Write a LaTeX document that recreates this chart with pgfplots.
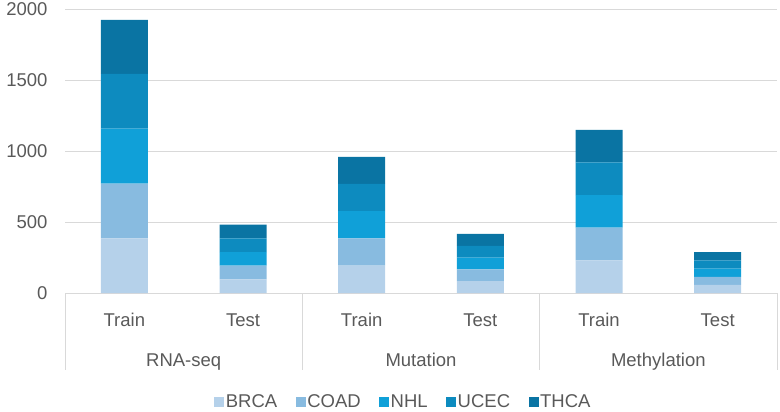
\documentclass[border=0pt]{standalone}
\usepackage{pgfplots}
\pgfplotsset{compat=1.18}
\usepackage{fontspec}
\setmainfont{Liberation Sans}

\definecolor{cBRCA}{RGB}{181,209,234}
\definecolor{cCOAD}{RGB}{136,187,224}
\definecolor{cNHL}{RGB}{16,160,216}
\definecolor{cUCEC}{RGB}{13,139,191}
\definecolor{cTHCA}{RGB}{10,116,163}
\definecolor{txtgray}{RGB}{89,89,89}
\definecolor{gridgray}{RGB}{217,217,217}

\newcommand{\chartfont}{\fontsize{18.5bp}{22bp}\selectfont}

\begin{document}
\begin{tikzpicture}
\path[use as bounding box] (0,0) rectangle (780bp,412bp);
\begin{axis}[
    at={(65bp,119bp)}, anchor=south west,
    scale only axis,
    width=712bp, height=284bp,
    ybar stacked,
    bar width=47bp,
    xmin=-0.5, xmax=5.5,
    ymin=0, ymax=2000,
    ytick={0,500,1000,1500,2000},
    xtick={0,1,2,3,4,5},
    xticklabels={Train,Test,Train,Test,Train,Test},
    /pgf/number format/assume math mode=true,
    /pgf/number format/1000 sep={},
    axis x line*=bottom,
    axis y line*=left,
    y axis line style={draw=none},
    x axis line style={draw=gridgray, line width=0.75bp},
    ymajorgrids,
    grid style={draw=gridgray, line width=0.75bp},
    ytick style={draw=none},
    xtick style={draw=none},
    ticklabel style={font=\chartfont, text=txtgray},
    yticklabel style={anchor=east, xshift=-14bp},
    xticklabel style={anchor=base, yshift=-33bp},
    clip=false,
    legend image code/.code={\fill[#1] (0bp,-5bp) rectangle (10bp,5bp);},
    legend style={at={(0.475,-0.384)}, anchor=center, legend columns=-1,
        draw=none, fill=none, font=\chartfont, text=txtgray,
        nodes={inner sep=1.5bp},
        /tikz/every even column/.append style={column sep=17bp}},
]
\addplot[fill=cBRCA, draw=none] coordinates {(0,385) (1,96) (2,192) (3,83) (4,230) (5,57)};
\addplot[fill=cCOAD, draw=none] coordinates {(0,385) (1,96) (2,192) (3,83) (4,230) (5,57)};
\addplot[fill=cNHL, draw=none] coordinates {(0,387) (1,96) (2,192) (3,83) (4,230) (5,57)};
\addplot[fill=cUCEC, draw=none] coordinates {(0,386) (1,96) (2,192) (3,83) (4,230) (5,58)};
\addplot[fill=cTHCA, draw=none] coordinates {(0,381) (1,97) (2,190) (3,84) (4,229) (5,58)};
\legend{BRCA,COAD,NHL,UCEC,THCA}

% category group separators
\draw[gridgray, line width=0.75bp] (axis cs:-0.5,0) -- ([yshift=-77bp]axis cs:-0.5,0);
\draw[gridgray, line width=0.75bp] (axis cs:1.5,0) -- ([yshift=-77bp]axis cs:1.5,0);
\draw[gridgray, line width=0.75bp] (axis cs:3.5,0) -- ([yshift=-77bp]axis cs:3.5,0);
\draw[gridgray, line width=0.75bp] (axis cs:5.5,0) -- ([yshift=-77bp]axis cs:5.5,0);

\node[anchor=base, yshift=-73bp, font=\chartfont, text=txtgray] at (axis cs:0.5,0) {RNA-seq};
\node[anchor=base, yshift=-73bp, font=\chartfont, text=txtgray] at (axis cs:2.5,0) {Mutation};
\node[anchor=base, yshift=-73bp, font=\chartfont, text=txtgray] at (axis cs:4.5,0) {Methylation};
\end{axis}
\end{tikzpicture}
\end{document}
